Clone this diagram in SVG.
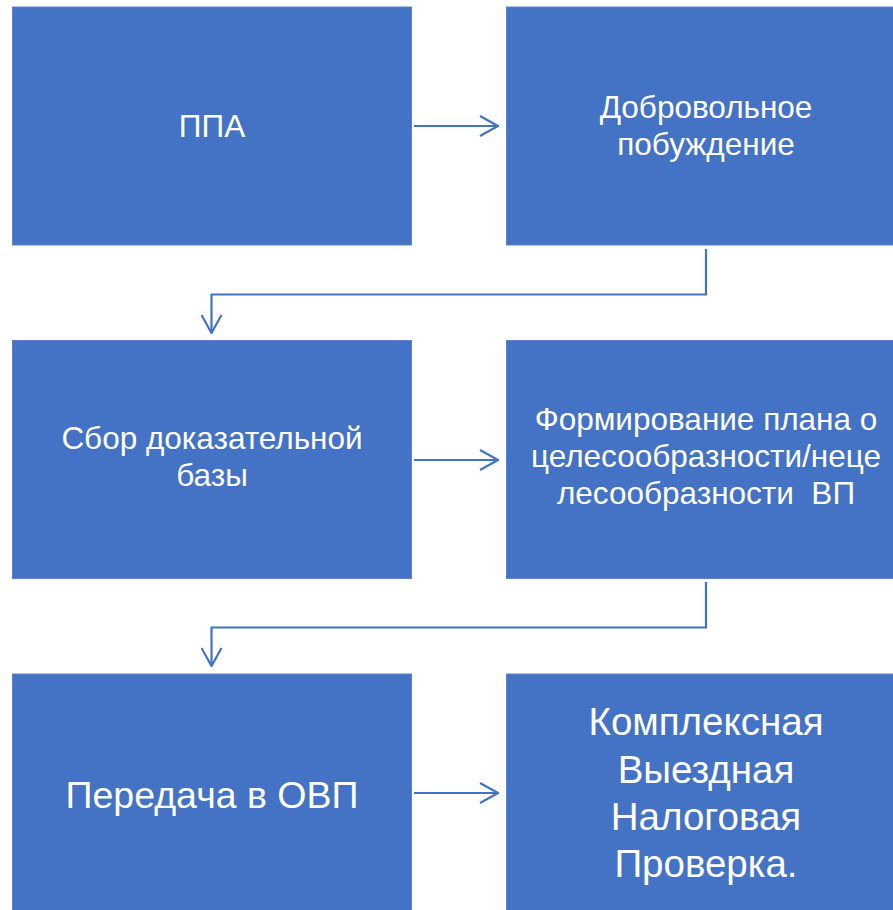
<svg xmlns="http://www.w3.org/2000/svg" width="893" height="910" viewBox="0 0 893 910">
<style>
.box{fill:#4472C4;stroke:#5B82CC;stroke-width:1}
.t{fill:#fff;font-family:"Liberation Sans",Arial,sans-serif;font-size:31.5px;text-anchor:middle}
.tb{fill:#fff;font-family:"Liberation Sans",Arial,sans-serif;font-size:38.5px;text-anchor:middle}
.c{fill:none;stroke:#4472C4;stroke-width:2.2;marker-end:url(#ah)}
</style>
<defs>
<marker id="ah" viewBox="0 0 20 22" refX="19" refY="11" markerWidth="20" markerHeight="22" markerUnits="userSpaceOnUse" orient="auto">
<path d="M1,1 L19,11 L1,21" fill="none" stroke="#4472C4" stroke-width="2.2"/>
</marker>
</defs>
<rect width="893" height="910" fill="#fff"/>
<g id="n1"><rect class="box" x="12.5" y="7" width="399" height="238"/><text class="t" x="212" y="137">ППА</text></g>
<g id="n2"><rect class="box" x="506.5" y="7" width="390" height="238"/><text class="t" x="706" y="118">Добровольное</text><text class="t" x="706" y="155">побуждение</text></g>
<g id="n3"><rect class="box" x="12.5" y="340.5" width="399" height="238"/><text class="t" x="212" y="449">Сбор доказательной</text><text class="t" x="212" y="486">базы</text></g>
<g id="n4"><rect class="box" x="506.5" y="340.5" width="390" height="238"/><text class="t" x="706" y="430">Формирование плана о</text><text class="t" x="706" y="467">целесообразности/неце</text><text class="t" x="706" y="504" xml:space="preserve">лесообразности  ВП</text></g>
<g id="n5"><rect class="box" x="12.5" y="674" width="399" height="240"/><text class="tb" x="212" y="808" style="font-size:37.5px">Передача в ОВП</text></g>
<g id="n6"><rect class="box" x="506.5" y="674" width="390" height="240"/><text class="tb" x="706" y="735">Комплексная</text><text class="tb" x="706" y="783">Выездная</text><text class="tb" x="706" y="830">Налоговая</text><text class="tb" x="706" y="877">Проверка.</text></g>
<g id="connectors">
<path class="c" d="M414,126 H498"/>
<path class="c" d="M706,249 V294.5 H211.5 V333"/>
<path class="c" d="M414,460 H498"/>
<path class="c" d="M706,582 V627.5 H211.5 V666"/>
<path class="c" d="M414,793 H498"/>
</g>
</svg>
